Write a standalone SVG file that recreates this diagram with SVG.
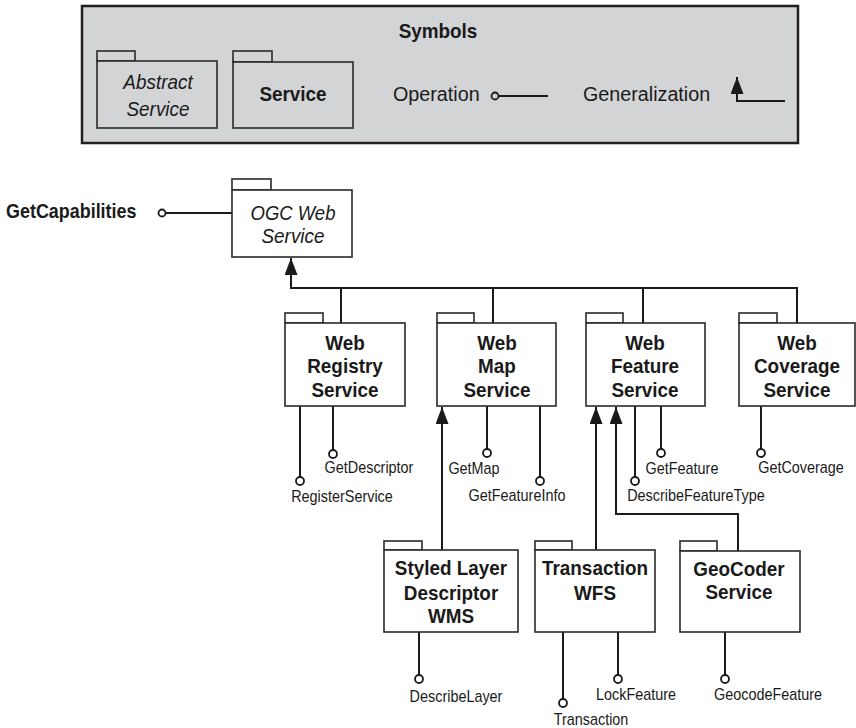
<svg xmlns="http://www.w3.org/2000/svg" width="856" height="728" viewBox="0 0 856 728">
<defs>
<style>
.pk{fill:#fff;stroke:#2a2a2a;stroke-width:1.6}
.lpk{fill:#d3d4d6;stroke:#2a2a2a;stroke-width:1.6}
.ln{fill:none;stroke:#1a1a1a;stroke-width:2}
.op{fill:#fff;stroke:#1a1a1a;stroke-width:1.8}
.t{font-family:"Liberation Sans",Arial,sans-serif;fill:#1a1a1a}
.b{font-weight:bold;font-size:21px;text-anchor:middle}
.i{font-style:italic;font-size:21px;text-anchor:middle}
.r{font-size:21px}
.s{font-size:16px;text-anchor:middle}
</style>
<marker id="ar" viewBox="0 0 17 13" refX="17" refY="6.5" markerWidth="17" markerHeight="13" markerUnits="userSpaceOnUse" orient="auto">
<path d="M0,0 L17,6.5 L0,13 z" fill="#1a1a1a"/>
</marker>
</defs>
<rect width="856" height="728" fill="#fff"/>

<g id="legend">
<rect x="82" y="6" width="716" height="137" fill="#d3d4d6" stroke="#231f20" stroke-width="2.5"/>
<text class="t b" transform="translate(438,38) scale(0.9,1)">Symbols</text>
<rect class="lpk" x="97" y="51" width="38" height="10"/>
<rect class="lpk" x="97" y="61" width="120" height="67"/>
<text class="t i" transform="translate(158,89) scale(0.9,1)">Abstract</text>
<text class="t i" transform="translate(158,116) scale(0.9,1)">Service</text>
<rect class="lpk" x="233" y="51" width="39" height="11"/>
<rect class="lpk" x="233" y="62" width="120" height="66"/>
<text class="t b" transform="translate(293,101) scale(0.9,1)">Service</text>
<text class="t r" transform="translate(393,101) scale(0.94,1)">Operation</text>
<circle class="op" cx="495" cy="96" r="3.5" style="fill:#d3d4d6"/>
<line class="ln" x1="499" y1="96" x2="548" y2="96"/>
<text class="t r" transform="translate(583,101) scale(0.94,1)">Generalization</text>
<path class="ln" d="M785,101 H737 V77" marker-end="url(#ar)"/>
</g>

<g id="connectors">
<circle class="op" cx="162" cy="213" r="3.5"/>
<line class="ln" x1="166" y1="213" x2="232" y2="213"/>
<path class="ln" d="M291,288 V258" marker-end="url(#ar)"/>
<line class="ln" x1="290" y1="288" x2="798" y2="288"/>
<line class="ln" x1="341" y1="288" x2="341" y2="323"/>
<line class="ln" x1="493" y1="288" x2="493" y2="323"/>
<line class="ln" x1="643" y1="288" x2="643" y2="323"/>
<line class="ln" x1="797" y1="288" x2="797" y2="323"/>
<path class="ln" d="M442,550 V407" marker-end="url(#ar)"/>
<path class="ln" d="M596,550 V407" marker-end="url(#ar)"/>
<path class="ln" d="M738,551 V514 H616 V407" marker-end="url(#ar)"/>
<line class="ln" x1="300" y1="406" x2="300" y2="477"/><circle class="op" cx="300" cy="481" r="4"/>
<line class="ln" x1="333" y1="406" x2="333" y2="450"/><circle class="op" cx="333" cy="454" r="4"/>
<line class="ln" x1="487" y1="406" x2="487" y2="449"/><circle class="op" cx="487" cy="453" r="4"/>
<line class="ln" x1="540" y1="406" x2="540" y2="477"/><circle class="op" cx="540" cy="481" r="4"/>
<line class="ln" x1="635" y1="406" x2="635" y2="477"/><circle class="op" cx="635" cy="481" r="4"/>
<line class="ln" x1="661" y1="406" x2="661" y2="449"/><circle class="op" cx="661" cy="453" r="4"/>
<line class="ln" x1="761" y1="406" x2="761" y2="449"/><circle class="op" cx="761" cy="453" r="4"/>
<line class="ln" x1="419" y1="632" x2="419" y2="675"/><circle class="op" cx="419" cy="679" r="4"/>
<line class="ln" x1="563" y1="632" x2="563" y2="699"/><circle class="op" cx="563" cy="703" r="4"/>
<line class="ln" x1="618" y1="632" x2="618" y2="675"/><circle class="op" cx="618" cy="679" r="4"/>
<line class="ln" x1="725" y1="632" x2="725" y2="675"/><circle class="op" cx="725" cy="679" r="4"/>
</g>

<g id="labels">
<text class="t" transform="translate(6,218) scale(0.92,1)" font-size="19.5" font-weight="bold">GetCapabilities</text>
<text class="t s" transform="translate(369,473) scale(0.9,1)">GetDescriptor</text>
<text class="t s" transform="translate(342,502) scale(0.9,1)">RegisterService</text>
<text class="t s" transform="translate(474,474) scale(0.9,1)">GetMap</text>
<text class="t s" transform="translate(517,501) scale(0.9,1)">GetFeatureInfo</text>
<text class="t s" transform="translate(682,474) scale(0.9,1)">GetFeature</text>
<text class="t s" transform="translate(696,501) scale(0.9,1)">DescribeFeatureType</text>
<text class="t s" transform="translate(801,473) scale(0.9,1)">GetCoverage</text>
<text class="t s" transform="translate(456,702) scale(0.9,1)">DescribeLayer</text>
<text class="t s" transform="translate(636,700) scale(0.9,1)">LockFeature</text>
<text class="t s" transform="translate(591,725) scale(0.9,1)">Transaction</text>
<text class="t s" transform="translate(768,700) scale(0.9,1)">GeocodeFeature</text>
</g>

<g id="ogc">
<rect class="pk" x="232" y="179" width="39" height="11"/>
<rect class="pk" x="232" y="190" width="120" height="67"/>
<text class="t i" transform="translate(293,220) scale(0.88,1)">OGC Web</text>
<text class="t i" transform="translate(293,243) scale(0.9,1)">Service</text>
</g>

<g id="wrs">
<rect class="pk" x="285" y="313" width="38" height="10"/>
<rect class="pk" x="285" y="323" width="120" height="83"/>
<text class="t b" transform="translate(345,350) scale(0.9,1)">Web</text>
<text class="t b" transform="translate(345,373) scale(0.9,1)">Registry</text>
<text class="t b" transform="translate(345,397) scale(0.9,1)">Service</text>
</g>

<g id="wms">
<rect class="pk" x="437" y="313" width="37" height="10"/>
<rect class="pk" x="437" y="323" width="119" height="83"/>
<text class="t b" transform="translate(497,350) scale(0.9,1)">Web</text>
<text class="t b" transform="translate(497,373) scale(0.9,1)">Map</text>
<text class="t b" transform="translate(497,397) scale(0.9,1)">Service</text>
</g>

<g id="wfs">
<rect class="pk" x="586" y="313" width="37" height="10"/>
<rect class="pk" x="586" y="323" width="119" height="83"/>
<text class="t b" transform="translate(645,350) scale(0.9,1)">Web</text>
<text class="t b" transform="translate(645,373) scale(0.9,1)">Feature</text>
<text class="t b" transform="translate(645,397) scale(0.9,1)">Service</text>
</g>

<g id="wcs">
<rect class="pk" x="739" y="313" width="38" height="10"/>
<rect class="pk" x="739" y="323" width="116" height="83"/>
<text class="t b" transform="translate(797,350) scale(0.9,1)">Web</text>
<text class="t b" transform="translate(797,373) scale(0.9,1)">Coverage</text>
<text class="t b" transform="translate(797,397) scale(0.9,1)">Service</text>
</g>

<g id="sld">
<rect class="pk" x="384" y="541" width="38" height="9"/>
<rect class="pk" x="384" y="550" width="134" height="82"/>
<text class="t b" transform="translate(451,575) scale(0.9,1)">Styled Layer</text>
<text class="t b" transform="translate(451,600) scale(0.9,1)">Descriptor</text>
<text class="t b" transform="translate(451,623) scale(0.9,1)">WMS</text>
</g>

<g id="twfs">
<rect class="pk" x="535" y="541" width="37" height="9"/>
<rect class="pk" x="535" y="550" width="120" height="82"/>
<text class="t b" transform="translate(595,575) scale(0.9,1)">Transaction</text>
<text class="t b" transform="translate(595,600) scale(0.9,1)">WFS</text>
</g>

<g id="geocoder">
<rect class="pk" x="680" y="541" width="37" height="10"/>
<rect class="pk" x="680" y="551" width="120" height="81"/>
<text class="t b" transform="translate(739,576) scale(0.9,1)">GeoCoder</text>
<text class="t b" transform="translate(739,599) scale(0.9,1)">Service</text>
</g>
</svg>
